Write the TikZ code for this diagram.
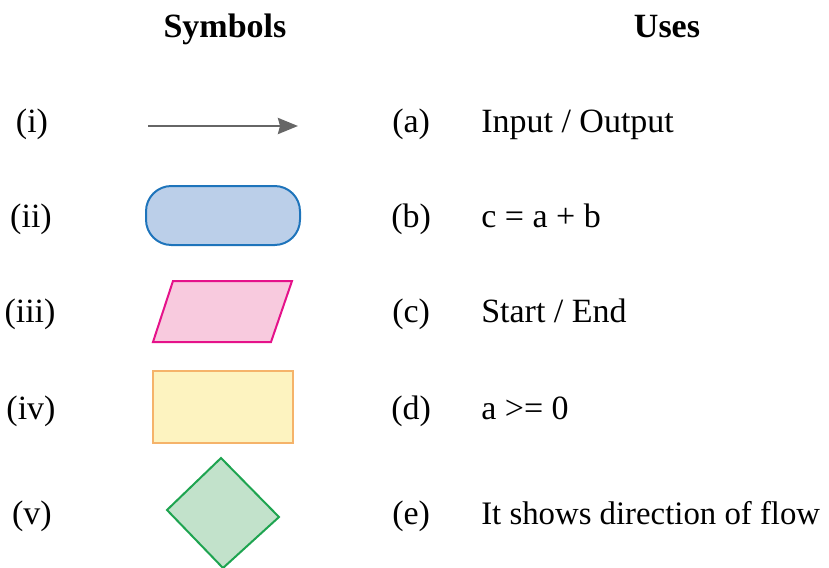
\documentclass[tikz,border=0pt]{standalone}
\usepackage{fontspec}
\setmainfont{Liberation Serif}
\usetikzlibrary{arrows.meta}
\definecolor{arrowgray}{HTML}{666666}
\definecolor{blueF}{HTML}{BBCFE9}
\definecolor{blueD}{HTML}{1E74BB}
\definecolor{pinkF}{HTML}{F8CADE}
\definecolor{pinkD}{HTML}{E5128A}
\definecolor{yelF}{HTML}{FDF3C0}
\definecolor{yelD}{HTML}{F5B36A}
\definecolor{grnF}{HTML}{C2E2CB}
\definecolor{grnD}{HTML}{1EA450}
\begin{document}
\begin{tikzpicture}[x=0.75pt,y=-0.75pt,
  txt/.style={inner sep=0pt,font=\fontsize{25.5}{30}\selectfont},
  head/.style={txt,font=\fontsize{25.5}{30}\selectfont\bfseries,anchor=base},
  num/.style={txt,anchor=base},
  lab/.style={txt,anchor=base west},
  shapeline/.style={line width=1.5pt,line join=miter}]
\useasboundingbox (0,0) rectangle (829,568);
% headings
\node[head] (hs) at (225,37) {Symbols};
\node[head] (hu) at (667,37) {Uses};
% row numbers
\node[num] (n1) at (32,132) {(i)};
\node[num] (n2) at (31,227) {(ii)};
\node[num] (n3) at (30,322) {(iii)};
\node[num] (n4) at (31,419) {(iv)};
\node[num] (n5) at (32,524) {(v)};
% letters
\node[lab] (l1) at (392,132) {(a)};
\node[lab] (l2) at (391,227) {(b)};
\node[lab] (l3) at (392,322) {(c)};
\node[lab] (l4) at (391,419) {(d)};
\node[lab] (l5) at (392,524) {(e)};
% uses
\node[lab] (u1) at (481,132) {Input / Output};
\node[lab] (u2) at (481,227) {c = a + b};
\node[lab] (u3) at (481,322) {Start / End};
\node[lab] (u4) at (481,419) {a >= 0};
\node[lab,font=\fontsize{24.6}{30}\selectfont] (u5) at (481,524) {It shows direction of flow};
% symbol (i): arrow
\coordinate (as) at (148,126);
\coordinate (ae) at (298,126);
\draw[arrowgray,line width=2pt,-{Stealth[length=15pt,width=12pt,inset=1.5pt]}] (as) -- (ae);
% symbol (ii): terminator
\draw[shapeline,draw=blueD,fill=blueF,rounded corners=19pt] (146,186) rectangle (300,245);
% symbol (iii): parallelogram
\coordinate (p1) at (173,281);
\coordinate (p2) at (292,281);
\coordinate (p3) at (271,342);
\coordinate (p4) at (153,342);
\draw[shapeline,draw=pinkD,fill=pinkF] (p1) -- (p2) -- (p3) -- (p4) -- cycle;
% symbol (iv): process
\draw[shapeline,draw=yelD,fill=yelF] (153,371) rectangle (293,443);
% symbol (v): decision
\coordinate (d1) at (221,458);
\coordinate (d2) at (279,517);
\coordinate (d3) at (223,568);
\coordinate (d4) at (167,510);
\draw[shapeline,draw=grnD,fill=grnF] (d1) -- (d2) -- (d3) -- (d4) -- cycle;
\end{tikzpicture}
\end{document}
